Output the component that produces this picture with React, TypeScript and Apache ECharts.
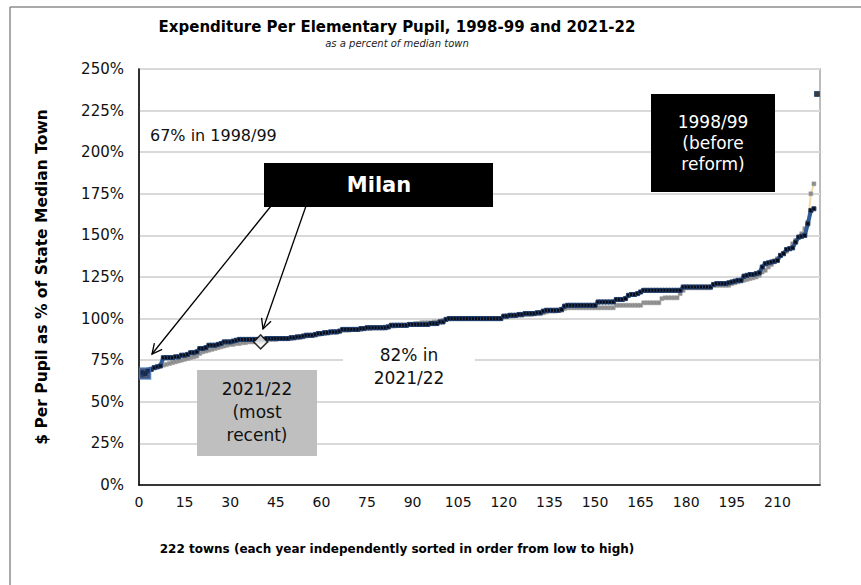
import React, { useEffect, useRef } from "react";
import * as echarts from "echarts";

// 1998/99 (before reform): % of median town, towns sorted low→high (rank 1..223)
const pct1998: number[] = [
  67.5, 67, 69, 69.5, 70.5, 71, 71.5, 76.5, 76.5, 76.5,
  76.5, 77, 77, 78, 78, 78.5, 79.5, 79.5, 80, 82,
  82, 82.5, 84, 84, 84, 84.5, 85, 86, 86, 86,
  86.5, 87, 87.5, 87.5, 87.5, 87.5, 87.5, 87.5, 87.5, 87.5,
  87.5, 88, 88, 88, 88, 88, 88, 88, 88, 88.5,
  88.5, 89, 89, 89.5, 90, 90, 90, 90.5, 91, 91,
  91.5, 91.5, 92, 92, 92, 92.5, 93.5, 93.5, 93.5, 93.5,
  93.5, 93.5, 94, 94, 94.5, 94.5, 94.5, 94.5, 94.5, 94.5,
  94.5, 95, 96, 96, 96, 96, 96, 96, 96.5, 96.5,
  96.5, 96.5, 96.5, 96.5, 96.5, 97, 97, 97, 98, 98,
  99.5, 100, 100, 100, 100, 100, 100, 100, 100, 100,
  100, 100, 100, 100, 100, 100, 100, 100, 100, 101.5,
  101.5, 102, 102, 102, 102.5, 102.5, 103, 103, 103, 103,
  103.5, 103.5, 104.5, 105, 105, 105, 105, 105, 105.5, 107.5,
  108, 108, 108, 108, 108, 108, 108, 108, 108, 108,
  110, 110, 110, 110, 110, 110, 111.5, 111.5, 111.5, 112,
  114, 114.5, 114.5, 115, 116, 117, 117, 117, 117, 117,
  117, 117, 117, 117, 117, 117, 117, 117, 119, 119,
  119, 119, 119, 119, 119, 119, 119, 119, 120.5, 121,
  121, 121, 121, 121.5, 122, 122.5, 123, 123, 125.5, 126,
  126.5, 126.5, 127, 127.5, 131, 133, 133.5, 134, 134.5, 135,
  138, 139, 141.5, 142, 142.5, 146, 149, 149.5, 150, 157,
  165, 166, 235,
];

// 2021/22 (most recent): % of median town, towns sorted low→high (rank 1..222)
const pct2021: number[] = [
  66, 67, 68.5, 69.5, 70.5, 71, 71.5, 72, 72.5, 73,
  73.5, 74, 74.5, 75, 75.5, 76, 76.5, 77, 77.5, 79,
  80, 80.5, 81, 81.5, 82, 82.5, 83, 83.5, 84, 84.5,
  84.5, 85, 85, 85.5, 85.5, 86, 86, 86, 86, 86,
  86.5, 87, 87.5, 87.5, 87.5, 88, 88, 88, 88, 88,
  88.5, 88.5, 89, 89, 89.5, 90, 90, 90, 90.5, 91,
  91, 91.5, 91.5, 92, 92, 92.5, 93, 93, 93, 93.5,
  93.5, 93.5, 93.5, 94, 94, 94, 94.5, 94.5, 94.5, 94.5,
  95, 95, 95.5, 95.5, 96, 96, 96, 96, 96.5, 96.5,
  97, 97, 97.5, 97.5, 97.5, 97.5, 98, 98, 98.5, 99,
  99.5, 100, 100, 100, 100, 100, 100, 100, 100, 100,
  100, 100, 100, 100, 100, 100, 100, 100, 100, 101,
  101, 101.5, 101.5, 102, 102, 102, 102.5, 102.5, 102.5, 103,
  103, 103, 103.5, 104, 104.5, 104.5, 104.5, 105, 105, 106,
  106.5, 106.5, 106.5, 106.5, 106.5, 106.5, 106.5, 106.5, 106.5, 106.5,
  106.5, 106.5, 106.5, 106.5, 106.5, 106.5, 108, 108, 108, 108,
  108, 108, 108, 108, 108, 109.5, 109.5, 109.5, 109.5, 109.5,
  109.5, 112, 112.5, 112.5, 112.5, 112.5, 112.5, 115, 117, 118.5,
  118.5, 118.5, 118.5, 118.5, 118.5, 118.5, 118.5, 118.5, 120, 120,
  120, 120, 120, 120, 121, 121.5, 122, 122.5, 123, 123.5,
  124, 124.5, 125, 126, 128, 129, 131, 132.5, 134, 136,
  138, 139, 140.5, 142, 145, 147, 149, 151, 154, 158,
  175, 181,
];

// Milan: [rank, % of median]
const milan1998: number[] = [2, 67];
const milan2021: number[] = [40, 86];

const yTicks: string[] = ["0%", "25%", "50%", "75%", "100%", "125%", "150%", "175%", "200%", "225%", "250%"];
const xTickStep = 15;

const TITLE = "Expenditure Per Elementary Pupil, 1998-99 and 2021-22";
const SUBTITLE = "as a percent of median town";
const Y_NAME = "$ Per Pupil as % of State Median Town";
const X_NAME = "222 towns (each year independently sorted in order from low to high)";

const SANS = "'DejaVu Sans', 'Noto Sans', sans-serif";

function arrow(x1: number, y1: number, x2: number, y2: number): any[] {
  const dx = x2 - x1;
  const dy = y2 - y1;
  const len = Math.sqrt(dx * dx + dy * dy);
  const ux = dx / len;
  const uy = dy / len;
  const nx = -uy;
  const ny = ux;
  const hl = 10;
  const hw = 5;
  return [
    { type: "line", shape: { x1, y1, x2, y2 }, style: { stroke: "#000", lineWidth: 1.3 }, z: 100 },
    {
      type: "polyline",
      shape: {
        points: [
          [x2 - ux * hl + nx * hw, y2 - uy * hl + ny * hw],
          [x2, y2],
          [x2 - ux * hl - nx * hw, y2 - uy * hl - ny * hw],
        ],
      },
      style: { stroke: "#000", lineWidth: 1.3, fill: null },
      z: 100,
    },
  ];
}

export default function App() {
  const ref = useRef<HTMLDivElement>(null);
  useEffect(() => {
    if (!ref.current) return;
    const chart = echarts.init(ref.current, undefined, { renderer: "svg" });
    const data1998 = pct1998.map((v, i) => [i + 1, v]);
    const data2021 = pct2021.map((v, i) => [i + 1, v]);
    const line1998 = data1998.slice(0, data1998.length - 1);
    const outlier1998 = data1998.slice(data1998.length - 1);

    const navyItem = { color: "#0a0a14", borderColor: "#22406e", borderWidth: 1 };

    const option: any = {
      animation: false,
      backgroundColor: "#fff",
      grid: {
        left: 139,
        top: 69,
        right: 41,
        bottom: 100,
        show: true,
        borderColor: "#a6a6a6",
        borderWidth: 1.5,
        backgroundColor: "transparent",
      },
      xAxis: {
        type: "value",
        min: 0,
        max: 224,
        interval: xTickStep,
        axisLine: { show: true, lineStyle: { color: "#000", width: 1.5 } },
        axisTick: { show: false },
        splitLine: { show: false },
        axisLabel: {
          margin: 10,
          fontSize: 14,
          fontFamily: SANS,
          color: "#111",
          formatter: (v: number) => (v % xTickStep === 0 ? String(v) : ""),
          showMaxLabel: false,
        },
      },
      yAxis: {
        type: "value",
        min: 0,
        max: 250,
        interval: 25,
        axisLine: { show: true, lineStyle: { color: "#000", width: 1.5 } },
        axisTick: { show: false },
        splitLine: { show: true, lineStyle: { color: "#d9d9d9", width: 2 } },
        axisLabel: {
          margin: 15,
          fontSize: 15,
          fontFamily: SANS,
          color: "#111",
          formatter: (v: number) => yTicks[Math.round(v / 25)] ?? "",
        },
      },
      series: [
        {
          name: "2021/22",
          type: "line",
          data: data2021,
          showAllSymbol: true,
          symbol: "rect",
          symbolSize: 4,
          lineStyle: { color: "#f7d9a4", width: 2 },
          itemStyle: { color: "#8c8c8c", borderColor: "#a5a5a5", borderWidth: 0.5 },
          z: 2,
        },
        {
          name: "1998/99",
          type: "line",
          data: line1998,
          showAllSymbol: true,
          symbol: "rect",
          symbolSize: 4,
          lineStyle: { color: "#2e5b94", width: 4 },
          itemStyle: navyItem,
          z: 3,
        },
        {
          name: "1998/99 top",
          type: "scatter",
          data: outlier1998,
          symbol: "rect",
          symbolSize: 5,
          itemStyle: navyItem,
          z: 3,
        },
        {
          name: "Milan 1998/99",
          type: "scatter",
          data: [milan1998],
          symbol: "rect",
          symbolSize: 11,
          itemStyle: { color: "#1a2f55", borderColor: "#4a7cc0", borderWidth: 1.5 },
          z: 5,
        },
        {
          name: "Milan 2021/22",
          type: "scatter",
          data: [milan2021],
          symbol: "diamond",
          symbolSize: 14,
          itemStyle: { color: "#fff", borderColor: "#000", borderWidth: 1.5 },
          z: 5,
        },
      ],
      graphic: [
        { type: "line", shape: { x1: 10, y1: 7, x2: 861, y2: 7 }, style: { stroke: "#8c8c8c", lineWidth: 1.5 } },
        { type: "line", shape: { x1: 10, y1: 7, x2: 10, y2: 585 }, style: { stroke: "#8c8c8c", lineWidth: 1.5 } },
        {
          type: "text",
          x: 397,
          y: 27,
          style: { text: TITLE, font: `700 15px ${SANS}`, fill: "#000", textAlign: "center", textVerticalAlign: "middle" },
        },
        {
          type: "text",
          x: 397,
          y: 43,
          style: { text: SUBTITLE, font: `italic 10px ${SANS}`, fill: "#222", textAlign: "center", textVerticalAlign: "middle" },
        },
        {
          type: "text",
          x: 42,
          y: 277,
          rotation: Math.PI / 2,
          style: { text: Y_NAME, font: `700 15.5px ${SANS}`, fill: "#000", textAlign: "center", textVerticalAlign: "middle" },
        },
        {
          type: "text",
          x: 397,
          y: 549,
          style: { text: X_NAME, font: `700 12px ${SANS}`, fill: "#000", textAlign: "center", textVerticalAlign: "middle" },
        },
        {
          type: "text",
          x: 150,
          y: 135,
          style: { text: "67% in 1998/99", font: `16px ${SANS}`, fill: "#111", textAlign: "left", textVerticalAlign: "middle" },
          z: 50,
        },
        ...arrow(271, 206, 152, 354),
        ...arrow(306, 206, 263, 329),
        { type: "rect", shape: { x: 264, y: 163, width: 229, height: 44 }, style: { fill: "#000" }, z: 110 },
        {
          type: "text",
          x: 379,
          y: 185,
          style: { text: "Milan", font: `700 21px ${SANS}`, fill: "#fff", textAlign: "center", textVerticalAlign: "middle" },
          z: 111,
        },
        { type: "rect", shape: { x: 651, y: 94, width: 124, height: 98 }, style: { fill: "#000" }, z: 110 },
        {
          type: "text",
          x: 713,
          y: 143,
          style: {
            text: "1998/99\n(before\nreform)",
            font: `17px ${SANS}`,
            lineHeight: 21,
            fill: "#fff",
            textAlign: "center",
            textVerticalAlign: "middle",
          },
          z: 111,
        },
        { type: "rect", shape: { x: 197, y: 370, width: 120, height: 86 }, style: { fill: "#bfbfbf" }, z: 110 },
        {
          type: "text",
          x: 257,
          y: 412,
          style: {
            text: "2021/22\n(most\nrecent)",
            font: `17px ${SANS}`,
            lineHeight: 23,
            fill: "#111",
            textAlign: "center",
            textVerticalAlign: "middle",
          },
          z: 111,
        },
        { type: "rect", shape: { x: 343, y: 340, width: 132, height: 52 }, style: { fill: "#fff" }, z: 90 },
        {
          type: "text",
          x: 409,
          y: 366,
          style: {
            text: "82% in\n2021/22",
            font: `17px ${SANS}`,
            lineHeight: 23,
            fill: "#111",
            textAlign: "center",
            textVerticalAlign: "middle",
          },
          z: 91,
        },
      ],
    };
    chart.setOption(option);
    return () => chart.dispose();
  }, []);
  return <div ref={ref} style={{ position: "fixed", left: 0, top: 0, width: 861, height: 585 }} />;
}
